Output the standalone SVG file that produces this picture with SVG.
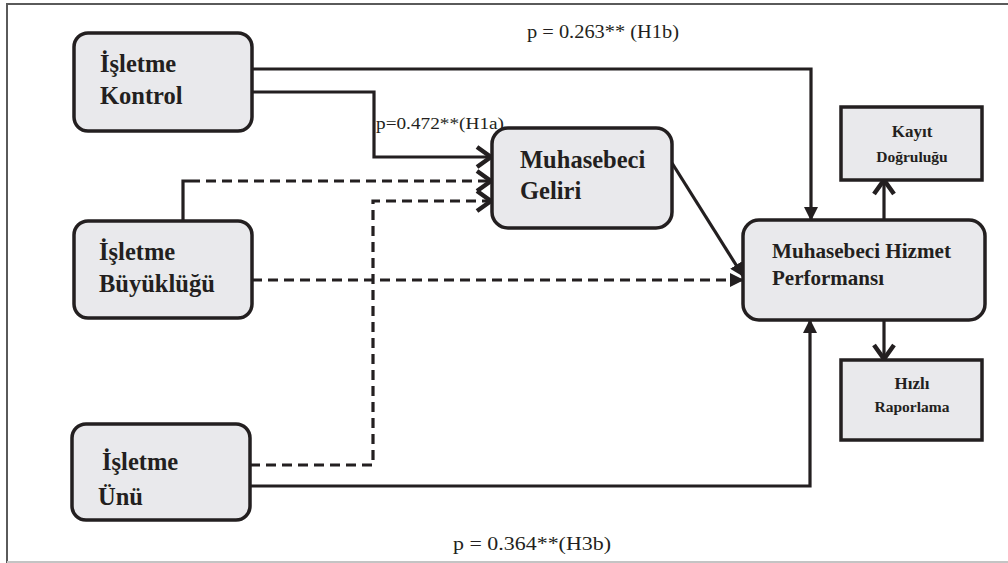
<svg xmlns="http://www.w3.org/2000/svg" width="1008" height="563" viewBox="0 0 1008 563">
<defs>
<marker id="tri" viewBox="0 0 14 14" refX="13" refY="7" markerWidth="14" markerHeight="14" markerUnits="userSpaceOnUse" orient="auto">
<path d="M0,0 L14,7 L0,14 Z" fill="#231f20"/>
</marker>
<marker id="chev" viewBox="0 0 20 24" refX="17" refY="12" markerWidth="20" markerHeight="24" markerUnits="userSpaceOnUse" orient="auto">
<path d="M3,2 L17,12 L3,22" fill="none" stroke="#231f20" stroke-width="4.5" stroke-linejoin="miter"/>
</marker>
</defs>
<style>
.box{fill:#e9e9ec;stroke:#231f20;stroke-width:3.5}
.t{font-family:"Liberation Serif",serif;font-weight:bold;fill:#231f20}
.big{font-size:24.5px}
.lbl{font-family:"Liberation Serif",serif;fill:#231f20}
.ln{fill:none;stroke:#231f20;stroke-width:3.2}
.ds{stroke-dasharray:10,6}
</style>
<rect x="0" y="0" width="1008" height="563" fill="#ffffff"/>
<path d="M7,563 L7,4 L1008,4" fill="none" stroke="#5a5a5a" stroke-width="2"/>
<line x1="7" y1="562" x2="1008" y2="562" stroke="#c4c4c4" stroke-width="2"/>
<g id="connectors">
<path class="ln" d="M252,69 L811,69 L811,220" marker-end="url(#tri)"/>
<path class="ln" d="M252,92 L374,92 L374,157 L491,157" marker-end="url(#chev)"/>
<path class="ln" d="M183,221 L183,181 L190,181"/>
<path class="ln ds" d="M190,181 L491,181" marker-end="url(#chev)"/>
<path class="ln ds" d="M250,465 L373,465 L373,201 L491,201" marker-end="url(#chev)"/>
<path class="ln ds" d="M252,280 L743,280" marker-end="url(#tri)"/>
<path class="ln" d="M672,163 L743,276" marker-end="url(#tri)"/>
<path class="ln" d="M250,486 L810,486 L810,320" marker-end="url(#tri)"/>
<path class="ln" d="M884,220 L884,180" marker-end="url(#chev)"/>
<path class="ln" d="M884,320 L884,359" marker-end="url(#chev)"/>
</g>
<g id="n-kontrol"><rect class="box" x="74" y="33" width="178" height="98" rx="14"/><text class="t big" x="100" y="72">İşletme</text><text class="t big" x="100" y="104">Kontrol</text></g>
<g id="n-buyukluk"><rect class="box" x="74" y="221" width="178" height="97" rx="14"/><text class="t big" x="99" y="260">İşletme</text><text class="t big" x="99" y="292">Büyüklüğü</text></g>
<g id="n-unu"><rect class="box" x="72" y="424" width="178" height="96" rx="14"/><text class="t big" x="102" y="470">İşletme</text><text class="t big" x="98" y="505">Ünü</text></g>
<g id="n-geliri"><rect class="box" x="492" y="128" width="180" height="100" rx="16"/><text class="t big" x="520" y="168">Muhasebeci</text><text class="t big" x="520" y="199">Geliri</text></g>
<g id="n-performans"><rect class="box" x="743" y="220" width="242" height="100" rx="16"/><text class="t" font-size="21" x="772" y="258" textLength="179" lengthAdjust="spacingAndGlyphs">Muhasebeci Hizmet</text><text class="t" font-size="21" x="772" y="285">Performansı</text></g>
<g id="n-kayit"><rect class="box" x="841" y="107" width="141" height="73"/><text class="t" font-size="17" x="912" y="137" text-anchor="middle">Kayıt</text><text class="t" font-size="15.5" x="912" y="162" text-anchor="middle">Doğruluğu</text></g>
<g id="n-hizli"><rect class="box" x="841" y="360" width="141" height="80"/><text class="t" font-size="17" x="912" y="389" text-anchor="middle">Hızlı</text><text class="t" font-size="15.5" x="912" y="412" text-anchor="middle">Raporlama</text></g>
<g id="labels">
<text class="lbl" font-size="19" x="527" y="38" textLength="152" lengthAdjust="spacingAndGlyphs">p = 0.263** (H1b)</text>
<text class="lbl" font-size="17" x="376" y="129" textLength="128" lengthAdjust="spacingAndGlyphs">p=0.472**(H1a)</text>
<text class="lbl" font-size="19" x="453" y="550" textLength="158" lengthAdjust="spacingAndGlyphs">p = 0.364**(H3b)</text>
</g>
</svg>
